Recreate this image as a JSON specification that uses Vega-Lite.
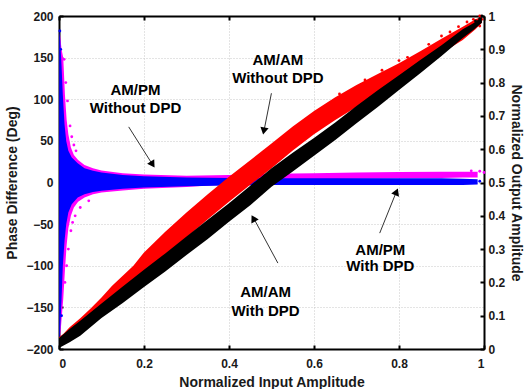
{
  "$schema": "https://vega.github.io/schema/vega-lite/v6.json",
  "width": 425,
  "height": 333,
  "autosize": {"type": "none"},
  "padding": {"left": 59, "top": 16, "right": 43, "bottom": 40},
  "background": "white",
  "config": {
    "view": {"stroke": "#000", "strokeWidth": 1},
    "axis": {
      "labelFont": "Liberation Sans", "labelFontWeight": "bold", "labelFontSize": 12, "labelColor": "#1a1a1a",
      "titleFont": "Liberation Sans", "titleFontWeight": "bold", "titleFontSize": 14, "titleColor": "#1a1a1a",
      "domainColor": "#000", "domainWidth": 2, "tickColor": "#000", "tickWidth": 2, "tickSize": -4,
      "gridColor": "#c8c8c8", "gridDash": [1, 2], "gridWidth": 1, "labelOverlap": false
    }
  },
  "datasets": {
    "pm_wo": [
      {"x": 0.002, "lo": -190, "hi": 180}, {"x": 0.006, "lo": -165, "hi": 160}, {"x": 0.01, "lo": -140, "hi": 150},
      {"x": 0.014, "lo": -105, "hi": 105}, {"x": 0.018, "lo": -75, "hi": 75}, {"x": 0.022, "lo": -55, "hi": 58},
      {"x": 0.028, "lo": -40, "hi": 42}, {"x": 0.035, "lo": -30, "hi": 33}, {"x": 0.045, "lo": -23, "hi": 27},
      {"x": 0.06, "lo": -18, "hi": 21}, {"x": 0.08, "lo": -14, "hi": 17}, {"x": 0.1, "lo": -12, "hi": 14.5},
      {"x": 0.15, "lo": -9.5, "hi": 11}, {"x": 0.2, "lo": -7.5, "hi": 9.5}, {"x": 0.3, "lo": -5.5, "hi": 8},
      {"x": 0.4, "lo": -2, "hi": 9}, {"x": 0.5, "lo": 3, "hi": 10.5}, {"x": 0.6, "lo": 4, "hi": 11},
      {"x": 0.7, "lo": 4.5, "hi": 12}, {"x": 0.8, "lo": 5, "hi": 12.5}, {"x": 0.9, "lo": 5.5, "hi": 13},
      {"x": 0.95, "lo": 6, "hi": 13}, {"x": 0.985, "lo": 6, "hi": 13}
    ],
    "pm_wo_pts": [
      {"x": 0.012, "y": 148}, {"x": 0.016, "y": 120}, {"x": 0.02, "y": 98}, {"x": 0.026, "y": 68}, {"x": 0.03, "y": 55},
      {"x": 0.035, "y": 45}, {"x": 0.04, "y": 38}, {"x": 0.014, "y": -120}, {"x": 0.018, "y": -100}, {"x": 0.022, "y": -80},
      {"x": 0.028, "y": -58}, {"x": 0.032, "y": -48}, {"x": 0.038, "y": -40}, {"x": 0.05, "y": -30}, {"x": 0.07, "y": -22},
      {"x": 0.97, "y": 14}, {"x": 0.99, "y": 13.5}, {"x": 1.0, "y": 12}
    ],
    "pm_w": [
      {"x": 0.0005, "lo": -195, "hi": 185}, {"x": 0.003, "lo": -175, "hi": 170}, {"x": 0.006, "lo": -140, "hi": 140},
      {"x": 0.009, "lo": -100, "hi": 105}, {"x": 0.013, "lo": -70, "hi": 70}, {"x": 0.017, "lo": -50, "hi": 50},
      {"x": 0.022, "lo": -36, "hi": 38}, {"x": 0.03, "lo": -26, "hi": 30}, {"x": 0.044, "lo": -18, "hi": 23},
      {"x": 0.06, "lo": -14, "hi": 17}, {"x": 0.08, "lo": -11.5, "hi": 14}, {"x": 0.1, "lo": -10, "hi": 12},
      {"x": 0.15, "lo": -7.5, "hi": 9}, {"x": 0.2, "lo": -6, "hi": 7.5}, {"x": 0.3, "lo": -4.5, "hi": 6},
      {"x": 0.4, "lo": -3.5, "hi": 5.5}, {"x": 0.5, "lo": -3, "hi": 5}, {"x": 0.6, "lo": -3, "hi": 5},
      {"x": 0.7, "lo": -3, "hi": 5}, {"x": 0.8, "lo": -3, "hi": 5}, {"x": 0.9, "lo": -3, "hi": 5},
      {"x": 0.95, "lo": -3, "hi": 4.5}, {"x": 0.985, "lo": -2.5, "hi": 4}
    ],
    "pm_w_pts": [
      {"x": 0.002, "y": 182}, {"x": 0.004, "y": 160}, {"x": 0.003, "y": -190}, {"x": 0.006, "y": -160},
      {"x": 0.97, "y": 2}, {"x": 0.99, "y": 1.5}
    ],
    "am_wo": [
      {"x": 0.0, "lo": 0.008, "hi": 0.035}, {"x": 0.01, "lo": 0.015, "hi": 0.045}, {"x": 0.025, "lo": 0.03, "hi": 0.065},
      {"x": 0.05, "lo": 0.048, "hi": 0.092}, {"x": 0.075, "lo": 0.07, "hi": 0.122}, {"x": 0.1, "lo": 0.1, "hi": 0.155},
      {"x": 0.125, "lo": 0.125, "hi": 0.19}, {"x": 0.15, "lo": 0.155, "hi": 0.22}, {"x": 0.175, "lo": 0.185, "hi": 0.25},
      {"x": 0.2, "lo": 0.218, "hi": 0.29}, {"x": 0.25, "lo": 0.275, "hi": 0.352}, {"x": 0.3, "lo": 0.335, "hi": 0.41},
      {"x": 0.35, "lo": 0.39, "hi": 0.465}, {"x": 0.4, "lo": 0.442, "hi": 0.517}, {"x": 0.45, "lo": 0.493, "hi": 0.567},
      {"x": 0.5, "lo": 0.543, "hi": 0.617}, {"x": 0.55, "lo": 0.596, "hi": 0.668}, {"x": 0.6, "lo": 0.645, "hi": 0.715},
      {"x": 0.65, "lo": 0.688, "hi": 0.756}, {"x": 0.7, "lo": 0.727, "hi": 0.793}, {"x": 0.75, "lo": 0.764, "hi": 0.826},
      {"x": 0.8, "lo": 0.798, "hi": 0.858}, {"x": 0.85, "lo": 0.842, "hi": 0.894}, {"x": 0.9, "lo": 0.888, "hi": 0.932},
      {"x": 0.95, "lo": 0.928, "hi": 0.968}, {"x": 0.98, "lo": 0.96, "hi": 0.99}, {"x": 0.995, "lo": 0.98, "hi": 0.998}
    ],
    "am_wo_pts": [
      {"x": 0.87, "y": 0.915}, {"x": 0.9, "y": 0.94}, {"x": 0.92, "y": 0.952}, {"x": 0.94, "y": 0.968}, {"x": 0.96, "y": 0.982},
      {"x": 0.975, "y": 0.99}, {"x": 0.99, "y": 1.0}, {"x": 0.995, "y": 0.99}, {"x": 0.8, "y": 0.866}, {"x": 0.76, "y": 0.837},
      {"x": 0.72, "y": 0.808}, {"x": 0.66, "y": 0.766}, {"x": 0.82, "y": 0.876}, {"x": 0.99, "y": 0.97}
    ],
    "am_w": [
      {"x": 0.0, "lo": 0.003, "hi": 0.033}, {"x": 0.025, "lo": 0.02, "hi": 0.06}, {"x": 0.05, "lo": 0.04, "hi": 0.085},
      {"x": 0.1, "lo": 0.093, "hi": 0.137}, {"x": 0.15, "lo": 0.138, "hi": 0.188}, {"x": 0.2, "lo": 0.186, "hi": 0.238},
      {"x": 0.25, "lo": 0.233, "hi": 0.287}, {"x": 0.3, "lo": 0.282, "hi": 0.338}, {"x": 0.35, "lo": 0.33, "hi": 0.388},
      {"x": 0.4, "lo": 0.382, "hi": 0.438}, {"x": 0.45, "lo": 0.432, "hi": 0.49}, {"x": 0.5, "lo": 0.487, "hi": 0.543},
      {"x": 0.55, "lo": 0.533, "hi": 0.589}, {"x": 0.6, "lo": 0.58, "hi": 0.634}, {"x": 0.65, "lo": 0.628, "hi": 0.68},
      {"x": 0.7, "lo": 0.678, "hi": 0.73}, {"x": 0.75, "lo": 0.727, "hi": 0.777}, {"x": 0.8, "lo": 0.778, "hi": 0.822},
      {"x": 0.85, "lo": 0.828, "hi": 0.868}, {"x": 0.9, "lo": 0.88, "hi": 0.912}, {"x": 0.95, "lo": 0.934, "hi": 0.96},
      {"x": 0.975, "lo": 0.958, "hi": 0.978}, {"x": 0.995, "lo": 0.98, "hi": 0.998}
    ],
    "am_w_pts": [
      {"x": 0.98, "y": 0.985}, {"x": 0.99, "y": 0.992}, {"x": 0.995, "y": 1.0}
    ],
    "labels": [
      {"x": 0.18, "y": 111, "text": "AM/PM"}, {"x": 0.18, "y": 89.6, "text": "Without DPD"},
      {"x": 0.515, "y": 147, "text": "AM/AM"}, {"x": 0.515, "y": 125.6, "text": "Without DPD"},
      {"x": 0.486, "y": -131, "text": "AM/AM"}, {"x": 0.486, "y": -154, "text": "With DPD"},
      {"x": 0.756, "y": -80.8, "text": "AM/PM"}, {"x": 0.756, "y": -100.9, "text": "With DPD"}
    ],
    "arrows": [
      {"x": 0.164, "y": 66.8, "x2": 0.222, "y2": 20},
      {"x": 0.4998, "y": 107.2, "x2": 0.4815, "y2": 60},
      {"x": 0.515, "y": -96.8, "x2": 0.456, "y2": -41},
      {"x": 0.7546, "y": -60.8, "x2": 0.7955, "y2": -9}
    ],
    "head1": [{"x": 0.2203, "y": 21.6}],
    "head2": [{"x": 0.4819, "y": 61.8}],
    "head3": [{"x": 0.4572, "y": -43.0}],
    "head4": [{"x": 0.7941, "y": -11.2}]
  },
  "layer": [
    {
      "encoding": {
        "x": {"field": "x", "type": "quantitative", "scale": {"domain": [0, 1], "nice": false, "zero": false},
          "axis": {"title": "Normalized Input Amplitude", "orient": "bottom", "values": [0, 0.2, 0.4, 0.6, 0.8, 1], "format": "~g", "grid": true, "labelPadding": 13, "titlePadding": 6}}
      },
      "layer": [
        {"data": {"name": "pm_wo"}, "mark": {"type": "area", "color": "#ff00ff", "opacity": 1},
          "encoding": {"y": {"field": "lo", "type": "quantitative", "scale": {"domain": [-200, 200], "nice": false, "zero": false},
            "axis": {"title": "Phase Difference (Deg)", "orient": "left", "values": [-200, -150, -100, -50, 0, 50, 100, 150, 200], "grid": true, "labelPadding": 10, "titlePadding": 6}},
            "y2": {"field": "hi"}}},
        {"data": {"name": "pm_wo_pts"}, "mark": {"type": "point", "filled": true, "color": "#ff00ff", "size": 8, "opacity": 1},
          "encoding": {"y": {"field": "y", "type": "quantitative", "scale": {"domain": [-200, 200], "nice": false, "zero": false}, "axis": {"title": "Phase Difference (Deg)"}}}},
        {"data": {"name": "pm_w"}, "mark": {"type": "area", "color": "#0000ff", "opacity": 1},
          "encoding": {"y": {"field": "lo", "type": "quantitative", "scale": {"domain": [-200, 200], "nice": false, "zero": false}, "axis": {"title": "Phase Difference (Deg)"}},
            "y2": {"field": "hi"}}},
        {"data": {"name": "pm_w_pts"}, "mark": {"type": "point", "filled": true, "color": "#0000ff", "size": 8, "opacity": 1},
          "encoding": {"y": {"field": "y", "type": "quantitative", "scale": {"domain": [-200, 200], "nice": false, "zero": false}, "axis": {"title": "Phase Difference (Deg)"}}}},
        {"data": {"name": "arrows"}, "mark": {"type": "rule", "color": "#333", "strokeWidth": 1},
          "encoding": {"y": {"field": "y", "type": "quantitative", "scale": {"domain": [-200, 200], "nice": false, "zero": false}, "axis": {"title": "Phase Difference (Deg)"}},
            "x2": {"field": "x2"}, "y2": {"field": "y2"}}},
        {"data": {"name": "head1"}, "mark": {"type": "point", "shape": "triangle-up", "filled": true, "color": "#000", "size": 70, "angle": 147.6, "opacity": 1},
          "encoding": {"y": {"field": "y", "type": "quantitative", "scale": {"domain": [-200, 200], "nice": false, "zero": false}, "axis": {"title": "Phase Difference (Deg)"}}}},
        {"data": {"name": "head2"}, "mark": {"type": "point", "shape": "triangle-up", "filled": true, "color": "#000", "size": 70, "angle": 191.4, "opacity": 1},
          "encoding": {"y": {"field": "y", "type": "quantitative", "scale": {"domain": [-200, 200], "nice": false, "zero": false}, "axis": {"title": "Phase Difference (Deg)"}}}},
        {"data": {"name": "head3"}, "mark": {"type": "point", "shape": "triangle-up", "filled": true, "color": "#000", "size": 70, "angle": 331.1, "opacity": 1},
          "encoding": {"y": {"field": "y", "type": "quantitative", "scale": {"domain": [-200, 200], "nice": false, "zero": false}, "axis": {"title": "Phase Difference (Deg)"}}}},
        {"data": {"name": "head4"}, "mark": {"type": "point", "shape": "triangle-up", "filled": true, "color": "#000", "size": 70, "angle": 22.1, "opacity": 1},
          "encoding": {"y": {"field": "y", "type": "quantitative", "scale": {"domain": [-200, 200], "nice": false, "zero": false}, "axis": {"title": "Phase Difference (Deg)"}}}},
        {"data": {"name": "labels"}, "mark": {"type": "text", "font": "Liberation Sans", "fontWeight": "bold", "fontSize": 15, "color": "#000", "align": "center", "baseline": "middle"},
          "encoding": {"y": {"field": "y", "type": "quantitative", "scale": {"domain": [-200, 200], "nice": false, "zero": false}, "axis": {"title": "Phase Difference (Deg)"}},
            "text": {"field": "text"}}}
      ]
    },
    {
      "encoding": {
        "x": {"field": "x", "type": "quantitative", "scale": {"domain": [0, 1], "nice": false, "zero": false},
          "axis": {"title": null, "orient": "top", "values": [0, 0.2, 0.4, 0.6, 0.8, 1], "labels": false, "grid": false}},
        "y": {"field": "lo", "type": "quantitative", "scale": {"domain": [0, 1], "nice": false, "zero": false},
          "axis": {"title": "Normalized Output Amplitude", "orient": "right", "values": [0, 0.1, 0.2, 0.3, 0.4, 0.5, 0.6, 0.7, 0.8, 0.9, 1], "tickCount": 11, "labelOverlap": false, "format": "~g", "grid": false, "labelPadding": 8, "titlePadding": 4}}
      },
      "layer": [
        {"data": {"name": "am_wo"}, "mark": {"type": "area", "color": "#ff0000", "opacity": 1},
          "encoding": {"y2": {"field": "hi"}}},
        {"data": {"name": "am_wo_pts"}, "mark": {"type": "point", "filled": true, "color": "#ff0000", "size": 8, "opacity": 1},
          "encoding": {"y": {"field": "y", "type": "quantitative", "scale": {"domain": [0, 1], "nice": false, "zero": false},
            "axis": {"title": "Normalized Output Amplitude", "orient": "right", "values": [0, 0.1, 0.2, 0.3, 0.4, 0.5, 0.6, 0.7, 0.8, 0.9, 1], "tickCount": 11, "labelOverlap": false, "format": "~g", "grid": false, "labelPadding": 8, "titlePadding": 4}}}},
        {"data": {"name": "am_w"}, "mark": {"type": "area", "color": "#000000", "opacity": 1},
          "encoding": {"y2": {"field": "hi"}}},
        {"data": {"name": "am_w_pts"}, "mark": {"type": "point", "filled": true, "color": "#000000", "size": 8, "opacity": 1},
          "encoding": {"y": {"field": "y", "type": "quantitative", "scale": {"domain": [0, 1], "nice": false, "zero": false},
            "axis": {"title": "Normalized Output Amplitude", "orient": "right", "values": [0, 0.1, 0.2, 0.3, 0.4, 0.5, 0.6, 0.7, 0.8, 0.9, 1], "tickCount": 11, "labelOverlap": false, "format": "~g", "grid": false, "labelPadding": 8, "titlePadding": 4}}}}
      ]
    }
  ],
  "resolve": {"scale": {"x": "independent", "y": "independent"}}
}
